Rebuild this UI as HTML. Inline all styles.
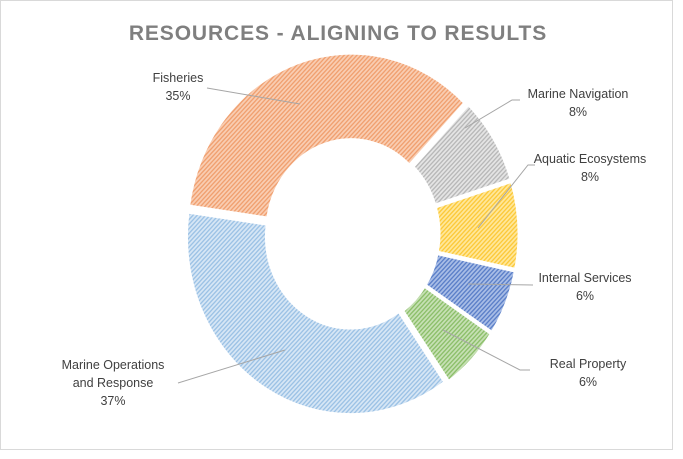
<!DOCTYPE html>
<html><head><meta charset="utf-8"><style>
html,body{margin:0;padding:0;background:#fff;}
svg{display:block;font-family:"Liberation Sans",sans-serif;}
</style></head><body>
<svg width="683" height="459" viewBox="0 0 683 459" xmlns="http://www.w3.org/2000/svg">
<defs>
<pattern id="po" width="3" height="3" patternUnits="userSpaceOnUse" patternTransform="rotate(45)"><rect width="3" height="3" fill="#f9cdb2"/><rect width="1.3" height="3" fill="#f0a070"/></pattern>
<pattern id="pg" width="3" height="3" patternUnits="userSpaceOnUse" patternTransform="rotate(45)"><rect width="3" height="3" fill="#e4e4e4"/><rect width="1.3" height="3" fill="#b8b8b8"/></pattern>
<pattern id="py" width="3" height="3" patternUnits="userSpaceOnUse" patternTransform="rotate(45)"><rect width="3" height="3" fill="#ffe79a"/><rect width="1.3" height="3" fill="#fcc93a"/></pattern>
<pattern id="pb" width="3" height="3" patternUnits="userSpaceOnUse" patternTransform="rotate(45)"><rect width="3" height="3" fill="#a8bde6"/><rect width="1.3" height="3" fill="#5b7fc8"/></pattern>
<pattern id="pgr" width="3" height="3" patternUnits="userSpaceOnUse" patternTransform="rotate(45)"><rect width="3" height="3" fill="#c6e0b4"/><rect width="1.3" height="3" fill="#8cbf6a"/></pattern>
<pattern id="pl" width="3" height="3" patternUnits="userSpaceOnUse" patternTransform="rotate(45)"><rect width="3" height="3" fill="#d6e6f5"/><rect width="1.3" height="3" fill="#9cc2e5"/></pattern>
</defs>
<rect x="0.5" y="0.5" width="672" height="449" fill="#fff" stroke="#d9d9d9"/>
<text x="338" y="40" text-anchor="middle" font-size="21" font-weight="bold" fill="#7f7f7f" letter-spacing="0.9">RESOURCES - ALIGNING TO RESULTS</text>
<g id="donut" transform="translate(352,234) scale(1,1.085)"></g>
<g stroke="#a6a6a6" stroke-width="1" fill="none">
<polyline points="207,88 300,104"/>
<polyline points="520,100 512,100 465,128"/>
<polyline points="535,165 528,165 478,228"/>
<polyline points="533,285 468,284"/>
<polyline points="530,370 520,370 443,330"/>
<polyline points="178,383 285,350"/>
</g>
<g font-size="12.5" fill="#404040" text-anchor="middle">
<text x="178" y="82">Fisheries</text><text x="178" y="100">35%</text>
<text x="578" y="98">Marine Navigation</text><text x="578" y="116">8%</text>
<text x="590" y="163">Aquatic Ecosystems</text><text x="590" y="181">8%</text>
<text x="585" y="282">Internal Services</text><text x="585" y="300">6%</text>
<text x="588" y="368">Real Property</text><text x="588" y="386">6%</text>
<text x="113" y="369">Marine Operations</text><text x="113" y="387">and Response</text><text x="113" y="405">37%</text>
</g>
<script>
(function(){
var g=document.getElementById('donut');
var data=[[8,'pg'],[8,'py'],[6,'pb'],[6,'pgr'],[37,'pl'],[35,'po']];
var R=164,r=84,a=44*Math.PI/180,tot=100;
function pt(rad,ang){return [rad*Math.sin(ang),-rad*Math.cos(ang)];}
data.forEach(function(d){
 var b=a+d[0]/tot*2*Math.PI;
 var p1=pt(R,a),p2=pt(R,b),p3=pt(r,b),p4=pt(r,a);
 var lg=(b-a)>Math.PI?1:0;
 var mid=(a+b)/2,ex=3;
 var p=document.createElementNS('http://www.w3.org/2000/svg','path');
 p.setAttribute('d','M'+p1+' A'+R+','+R+' 0 '+lg+' 1 '+p2+' L'+p3+' A'+r+','+r+' 0 '+lg+' 0 '+p4+' Z');
 p.setAttribute('fill','url(#'+d[1]+')');
 p.setAttribute('stroke','#fff');p.setAttribute('stroke-width','3');
 p.setAttribute('transform','translate('+(ex*Math.sin(mid))+','+(-ex*Math.cos(mid))+')');
 g.appendChild(p);
 a=b;
});
})();
</script>
</svg>
</body></html>
